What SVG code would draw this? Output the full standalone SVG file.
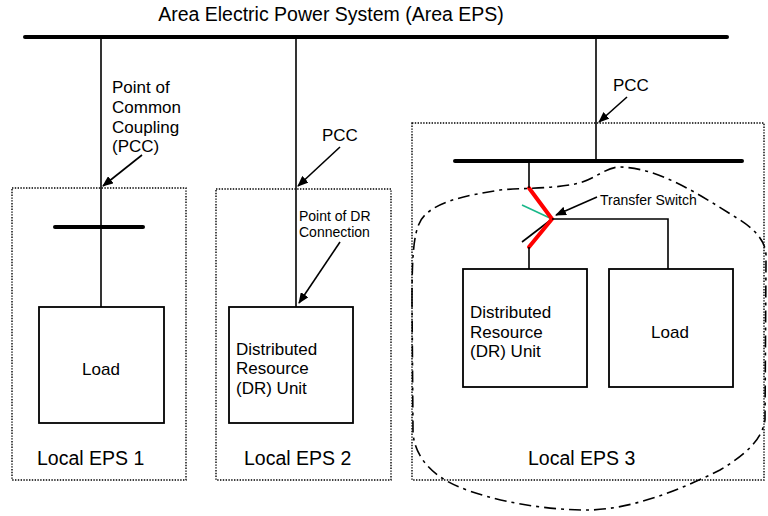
<svg xmlns="http://www.w3.org/2000/svg" width="768" height="516" viewBox="0 0 768 516">
<style>
text{font-family:"Liberation Sans",Arial,sans-serif;fill:#000}
.t17{font-size:17px}
.t14{font-size:14px}
.t19{font-size:19.5px}
.bus{stroke:#000;stroke-width:4;stroke-linecap:round;fill:none}
.wire{stroke:#000;stroke-width:1.6;fill:none}
.box{stroke:#000;stroke-width:1.8;fill:#fff}
.dot{stroke:#000;stroke-width:1.4;stroke-dasharray:1.4 1.4;fill:none}
.arr{stroke:#000;stroke-width:1.6;fill:none;marker-end:url(#ah)}
.red{stroke:#f00;stroke-width:4;fill:none;stroke-linecap:round}
</style>
<defs>
<marker id="ah" markerUnits="userSpaceOnUse" markerWidth="11" markerHeight="9" refX="10" refY="4.5" orient="auto">
<path d="M0,0 L11,4.5 L0,9 z" fill="#000"/>
</marker>
</defs>
<rect width="768" height="516" fill="#fff"/>

<g id="area-eps">
<text class="t19" x="331" y="21" text-anchor="middle">Area Electric Power System (Area EPS)</text>
<line class="bus" x1="25" y1="37" x2="727" y2="37"/>
</g>

<g id="local-eps-1">
<rect class="dot" x="12" y="188" width="174" height="292"/>
<line class="bus" x1="55" y1="227" x2="143" y2="227"/>
<text class="t19" x="37" y="465">Local EPS 1</text>
</g>
<g id="load-1">
<rect class="box" x="39" y="307" width="125" height="116"/>
<text class="t17" x="101" y="375" text-anchor="middle">Load</text>
</g>

<g id="local-eps-2">
<rect class="dot" x="216" y="189" width="175" height="291"/>
<text class="t19" x="244" y="465">Local EPS 2</text>
</g>
<g id="dr-unit-2">
<rect class="box" x="229" y="307" width="124" height="116"/>
<text class="t17" x="236" y="355">Distributed</text>
<text class="t17" x="236" y="374">Resource</text>
<text class="t17" x="236" y="394">(DR) Unit</text>
</g>

<g id="local-eps-3">
<rect class="dot" x="412" y="123" width="352" height="357"/>
<line class="bus" x1="455" y1="161" x2="742" y2="161"/>
<text class="t19" x="528" y="465">Local EPS 3</text>
</g>
<g id="dr-unit-3">
<rect class="box" x="463" y="269" width="124" height="118"/>
<text class="t17" x="470" y="318">Distributed</text>
<text class="t17" x="470" y="338">Resource</text>
<text class="t17" x="470" y="357">(DR) Unit</text>
</g>
<g id="load-3">
<rect class="box" x="609" y="269" width="124" height="118"/>
<text class="t17" x="670" y="338" text-anchor="middle">Load</text>
</g>

<g id="transfer-switch">
<line x1="522" y1="205" x2="552" y2="219" stroke="#1ab88a" stroke-width="1.6"/>
<line class="wire" x1="552" y1="219" x2="522" y2="242"/>
<polyline class="red" points="529,188 552,219 529,247"/>
<text class="t14" x="600" y="205">Transfer Switch</text>
</g>

<g id="island-boundary">
<path d="M412,300 C412,250 414,225 425,215 C440,200 470,195 500,190 C520,188 550,189 575,184 C595,180 605,167 620,167 C660,168 700,195 740,220 C760,233 767,245 766,260 L765,420 C762,440 745,455 720,470 C680,490 630,510 587,510 C530,510 470,495 445,480 C425,468 413,450 413,430 Z" fill="none" stroke="#000" stroke-width="1.6" stroke-dasharray="12 5 3 5"/>
</g>

<g id="connectors">
<line class="wire" x1="101" y1="37" x2="101" y2="307"/>
<line class="wire" x1="296" y1="37" x2="296" y2="307"/>
<line class="wire" x1="596" y1="37" x2="596" y2="161"/>
<line class="wire" x1="529" y1="161" x2="529" y2="188"/>
<line class="wire" x1="529" y1="247" x2="529" y2="269"/>
<polyline class="wire" points="552,219 668,219 668,269"/>
<line class="arr" x1="142" y1="155" x2="103" y2="186"/>
<line class="arr" x1="340" y1="147" x2="298" y2="186"/>
<line class="arr" x1="340" y1="242" x2="299" y2="303"/>
<line class="arr" x1="627" y1="97" x2="599" y2="122"/>
<line class="arr" x1="597" y1="197" x2="556" y2="215"/>
</g>

<g id="labels">
<text class="t17" x="112" y="93">Point of</text>
<text class="t17" x="112" y="113">Common</text>
<text class="t17" x="112" y="133">Coupling</text>
<text class="t17" x="112" y="152">(PCC)</text>
<text class="t17" x="322" y="141">PCC</text>
<text class="t14" x="299" y="221">Point of DR</text>
<text class="t14" x="299" y="237">Connection</text>
<text class="t17" x="613" y="91">PCC</text>
</g>
</svg>
